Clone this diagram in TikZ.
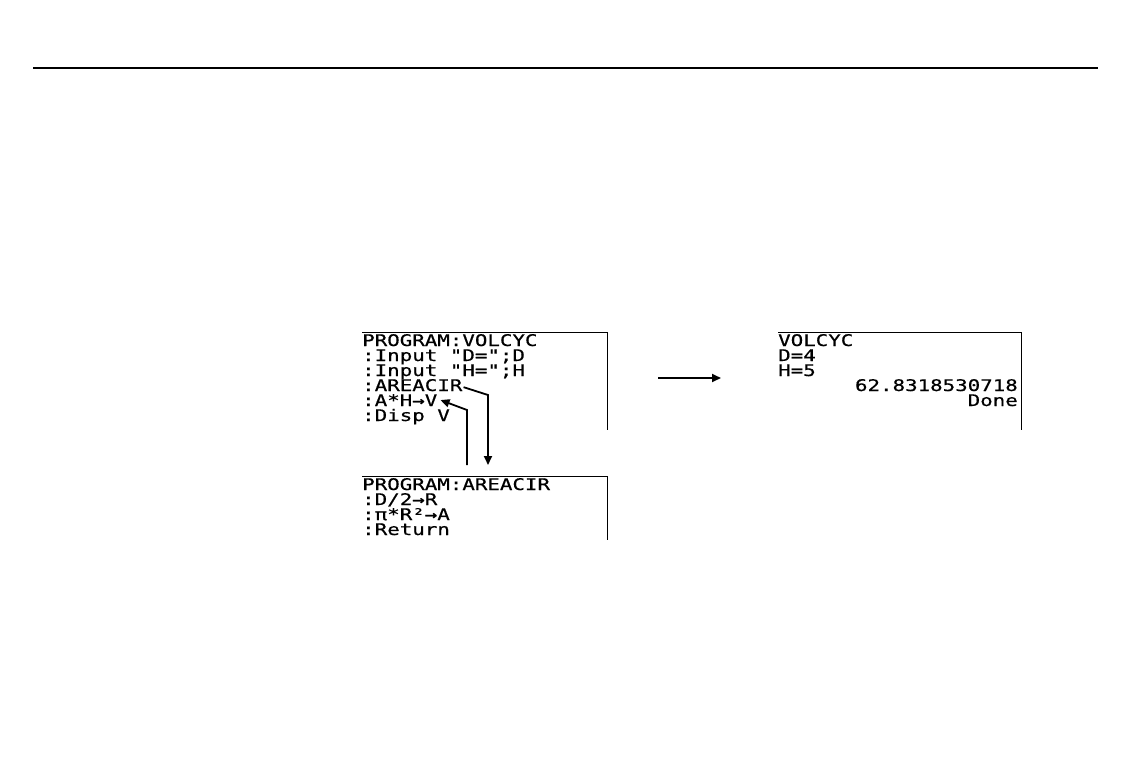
\documentclass[tikz,border=0pt]{standalone}
\usepackage{fontspec}
\usetikzlibrary{arrows.meta}
\newfontfamily\calcfont[FakeStretch=1.30,FakeBold=0.6]{DejaVu Sans Mono}

\begin{document}
\begin{tikzpicture}[x=1pt,y=-1pt,
    scr/.style={font={\calcfont\fontsize{16}{16}\selectfont},inner sep=0pt,anchor=base west},
    scrR/.style={scr,anchor=base east},
    frame/.style={line width=1pt},
    link/.style={line width=1.8pt,-{Triangle[length=9pt,width=8pt]}}]
  \useasboundingbox (0,0) rectangle (1128,768);
  \draw[line width=2pt] (33,68)--(1098,68);
  % screen of VOLCYC
  \draw[frame] (362,332)--(607,332)--(607,430);
  \node[scr] (v1) at (362,346) {PROGRAM:VOLCYC};
  \node[scr] (v2) at (362,361) {:Input "D=";D};
  \node[scr] (v3) at (362,376) {:Input "H=";H};
  \node[scr] (v4) at (362,391) {:AREACIR};
  \node[scr] (v5) at (362,406) {:A*H→V};
  \node[scr] (v6) at (362,421) {:Disp V};
  % screen of AREACIR
  \draw[frame] (362,476)--(607,476)--(607,540);
  \node[scr] (a1) at (362,490) {PROGRAM:AREACIR};
  \node[scr] (a2) at (362,505) {:D/2→R};
  \node[scr] (a3) at (362,520) {:π*R²→A};
  \node[scr] (a4) at (362,535) {:Return};
  % home screen
  \draw[frame] (778,332)--(1021,332)--(1021,430);
  \node[scr] (h1) at (778,346) {VOLCYC};
  \node[scr] (h2) at (778,361) {D=4};
  \node[scr] (h3) at (778,376) {H=5};
  \node[scrR] (h4) at (1018,391) {62.8318530718};
  \node[scrR] (h5) at (1018,406) {Done};
  % connectors
  \coordinate (callbend) at (488,395);
  \coordinate (callend) at (488,465);
  \coordinate (retstart) at (467,465);
  \coordinate (retbend) at (467,410);
  \coordinate (runA) at (658,378);
  \coordinate (runB) at (721,378);
  \draw[link] ([xshift=1pt,yshift=-2pt]v4.east)--(callbend)--(callend);
  \draw[link] (retstart)--(retbend)--([xshift=3pt]v5.east);
  \draw[link] (runA)--(runB);
\end{tikzpicture}
\end{document}
